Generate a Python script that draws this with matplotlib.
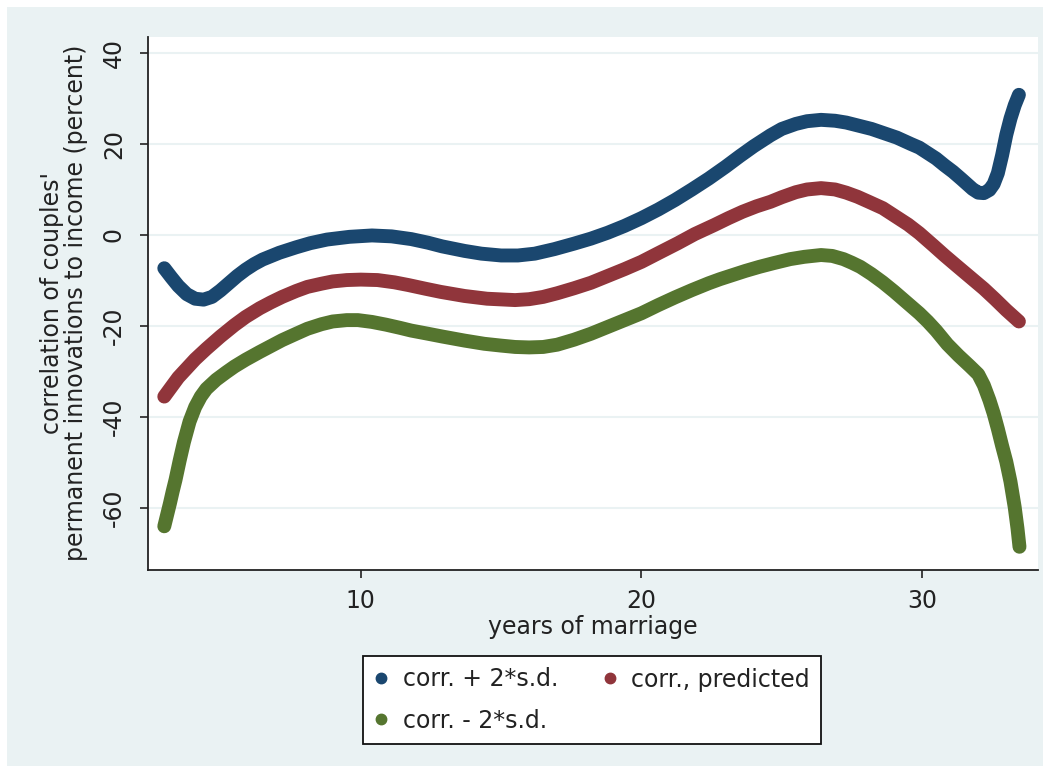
import matplotlib
matplotlib.use("Agg")
import matplotlib.pyplot as plt
from matplotlib.lines import Line2D
from matplotlib.patches import Rectangle

# ---- data: correlation of couples' permanent income innovations ----
years_hi = [3.0, 3.25, 3.5, 3.8, 4.1, 4.4, 4.7, 5.0, 5.3, 5.6, 5.9, 6.2, 6.5,
            7.1, 7.7, 8.2, 8.8, 9.6, 10.4, 11.1, 11.8, 12.4, 12.9, 13.7, 14.3,
            15.0, 15.6, 16.2, 16.9, 17.6, 18.2, 18.8, 19.4, 20.0, 20.6, 21.2,
            21.8, 22.4, 23.0, 23.5, 24.0, 24.6, 25.0, 25.5, 25.9, 26.4, 26.9,
            27.3, 28.2, 29.1, 29.6, 29.9, 30.2, 30.5, 30.8, 31.1, 31.4, 31.6,
            31.8, 32.0, 32.2, 32.4, 32.55, 32.7, 32.85, 33.0, 33.15, 33.3, 33.45]
corr_hi = [-7.3, -9.3, -11.2, -13.0, -14.0, -14.2, -13.6, -12.2, -10.6, -9.0,
           -7.6, -6.4, -5.4, -3.9, -2.7, -1.8, -1.0, -0.4, -0.1, -0.3, -0.9,
           -1.7, -2.5, -3.5, -4.1, -4.5, -4.5, -4.1, -3.1, -1.9, -0.8, 0.5,
           2.0, 3.7, 5.6, 7.7, 10.0, 12.4, 15.0, 17.3, 19.5, 21.9, 23.3, 24.4,
           25.0, 25.3, 25.1, 24.7, 23.3, 21.4, 20.0, 19.2, 18.0, 16.8, 15.3,
           13.9, 12.3, 11.2, 10.1, 9.3, 9.2, 9.9, 11.2, 13.6, 17.5, 22.0, 25.6,
           28.5, 30.8]

years_pred = [3.0, 3.5, 4.1, 4.5, 5.0, 5.5, 5.9, 6.4, 6.8, 7.2, 7.7, 8.1, 8.6,
              9.0, 9.5, 10.0, 10.6, 11.2, 11.7, 12.3, 12.85, 13.7, 14.5, 15.5,
              16.0, 16.5, 17.0, 17.6, 18.2, 18.8, 19.4, 20.0, 20.6, 21.3, 21.9,
              22.6, 23.1, 23.6, 24.1, 24.6, 25.0, 25.5, 25.9, 26.4, 26.9, 27.3,
              27.7, 28.1, 28.6, 29.0, 29.5, 29.9, 30.4, 30.8, 31.2, 31.7, 32.2,
              32.6, 33.0, 33.45]
corr_pred = [-35.5, -31.3, -27.3, -25.0, -22.3, -19.8, -18.0, -16.1, -14.8,
             -13.6, -12.3, -11.4, -10.7, -10.2, -9.9, -9.8, -9.9, -10.4, -11.0,
             -11.8, -12.5, -13.4, -14.0, -14.3, -14.1, -13.6, -12.8, -11.7,
             -10.5, -9.0, -7.5, -5.9, -4.0, -1.8, 0.2, 2.2, 3.7, 5.1, 6.3, 7.3,
             8.3, 9.4, 10.0, 10.3, 10.0, 9.3, 8.4, 7.3, 5.9, 4.3, 2.3, 0.4, -2.3,
             -4.5, -6.6, -9.2, -11.8, -14.1, -16.5, -19.0]

years_lo = [3.0, 3.1, 3.2, 3.3, 3.4, 3.55, 3.7, 3.9, 4.1, 4.3, 4.5, 4.85, 5.2,
            5.5, 5.9, 6.4, 6.8, 7.2, 7.7, 8.1, 8.6, 9.0, 9.5, 9.9, 10.4, 10.9,
            11.4, 11.8, 12.4, 12.9, 13.7, 14.4, 15.0, 15.5, 16.0, 16.5, 17.0,
            17.6, 18.2, 18.8, 19.4, 20.0, 20.6, 21.2, 21.8, 22.4, 22.8, 23.3,
            23.7, 24.2, 24.7, 25.3, 25.8, 26.4, 26.8, 27.2, 27.5, 27.8, 28.2,
            28.6, 29.0, 29.3, 29.6, 29.9, 30.2, 30.5, 30.9, 31.3, 31.7, 32.0,
            32.2, 32.4, 32.55, 32.7, 32.85, 33.0, 33.15, 33.3, 33.4, 33.47]
corr_lo = [-64.0, -61.5, -59.0, -56.3, -53.8, -49.5, -45.5, -41.0, -37.8, -35.5,
           -33.8, -31.8, -30.2, -28.9, -27.4, -25.7, -24.4, -23.1, -21.7, -20.6,
           -19.6, -19.0, -18.7, -18.7, -19.1, -19.7, -20.4, -21.0, -21.7, -22.3,
           -23.2, -23.9, -24.3, -24.6, -24.7, -24.6, -24.1, -23.0, -21.7, -20.2,
           -18.7, -17.2, -15.4, -13.7, -12.1, -10.6, -9.7, -8.7, -7.9, -7.0,
           -6.2, -5.3, -4.8, -4.4, -4.6, -5.3, -6.1, -7.0, -8.6, -10.4, -12.4,
           -14.0, -15.6, -17.2, -19.0, -21.0, -24.0, -26.5, -28.8, -30.6, -33.0,
           -36.3, -39.2, -42.6, -46.3, -49.8, -54.2, -59.8, -64.5, -68.5]

x_ticks = [10, 20, 30]
y_ticks = [-60, -40, -20, 0, 20, 40]

labels = ["corr. + 2*s.d.", "corr., predicted", "corr. - 2*s.d."]
colors = ["#1A476F", "#90353B", "#55752F"]

BG = "#EAF2F3"
plt.rcParams["font.family"] = ["DejaVu Sans"]
plt.rcParams["axes.unicode_minus"] = False
FS = 17

W, H = 1050, 772
fig = plt.figure(figsize=(W / 100, H / 100), dpi=100, facecolor="white")

# graph region background
fig.patches.append(Rectangle((7 / W, 1 - 766 / H), (1043 - 7) / W, (766 - 7) / H,
                             transform=fig.transFigure, facecolor=BG,
                             edgecolor="none", zorder=-10))

ax = fig.add_axes([148 / W, 1 - 570 / H, (1038 - 148) / W, (570 - 37) / H])
ax.set_zorder(1)
ax.set_facecolor("white")
ax.set_xlim(2.42, 34.13)
ax.set_ylim(-73.6, 43.5)

for s in ("top", "right"):
    ax.spines[s].set_visible(False)
for s in ("left", "bottom"):
    ax.spines[s].set_linewidth(1.3)
    ax.spines[s].set_color("#222222")

ax.set_yticks(y_ticks)
ax.set_xticks(x_ticks)
ax.grid(axis="y", color=BG, linewidth=1.5)
ax.set_axisbelow(True)
ax.tick_params(axis="both", direction="out", length=6, width=1.2,
               color="#222222", labelsize=FS, labelcolor="#222222")
ax.tick_params(axis="x", pad=8)
ax.tick_params(axis="y", pad=10)
for t in ax.get_yticklabels():
    t.set_rotation(90)
    t.set_va("center")

series = [(years_hi, corr_hi), (years_pred, corr_pred), (years_lo, corr_lo)]
for (xs, ys), c in zip(series, colors):
    ax.plot(xs, ys, color=c, linewidth=10, solid_capstyle="round",
            solid_joinstyle="round", zorder=3)

ax.set_xlabel("years of marriage", fontsize=FS, color="#222222", labelpad=1)
fig.text(64 / W, 1 - 303 / H,
         "correlation of couples'\npermanent innovations to income (percent)",
         rotation=90, ha="center", va="center", multialignment="center",
         fontsize=FS, color="#222222", linespacing=0.95)

# legend laid out row-wise: blue, red / green
handles = [Line2D([], [], linestyle="none", marker="o", markersize=7.5,
                  color=c) for c in colors]
order = [0, 2, 1]
leg = fig.legend([handles[i] for i in order], [labels[i] for i in order],
                 ncol=2, loc="center", bbox_to_anchor=(592 / W, 1 - 700 / H),
                 fontsize=FS, frameon=True, fancybox=False, edgecolor="#111111",
                 facecolor="white", framealpha=1, borderpad=0.47,
                 handlelength=0.6, handletextpad=0.6, columnspacing=1.9,
                 labelspacing=0.72, borderaxespad=0)
leg.get_frame().set_linewidth(1.3)
for t in leg.get_texts():
    t.set_color("#222222")

fig.savefig("out.png", dpi=100, facecolor="white")
